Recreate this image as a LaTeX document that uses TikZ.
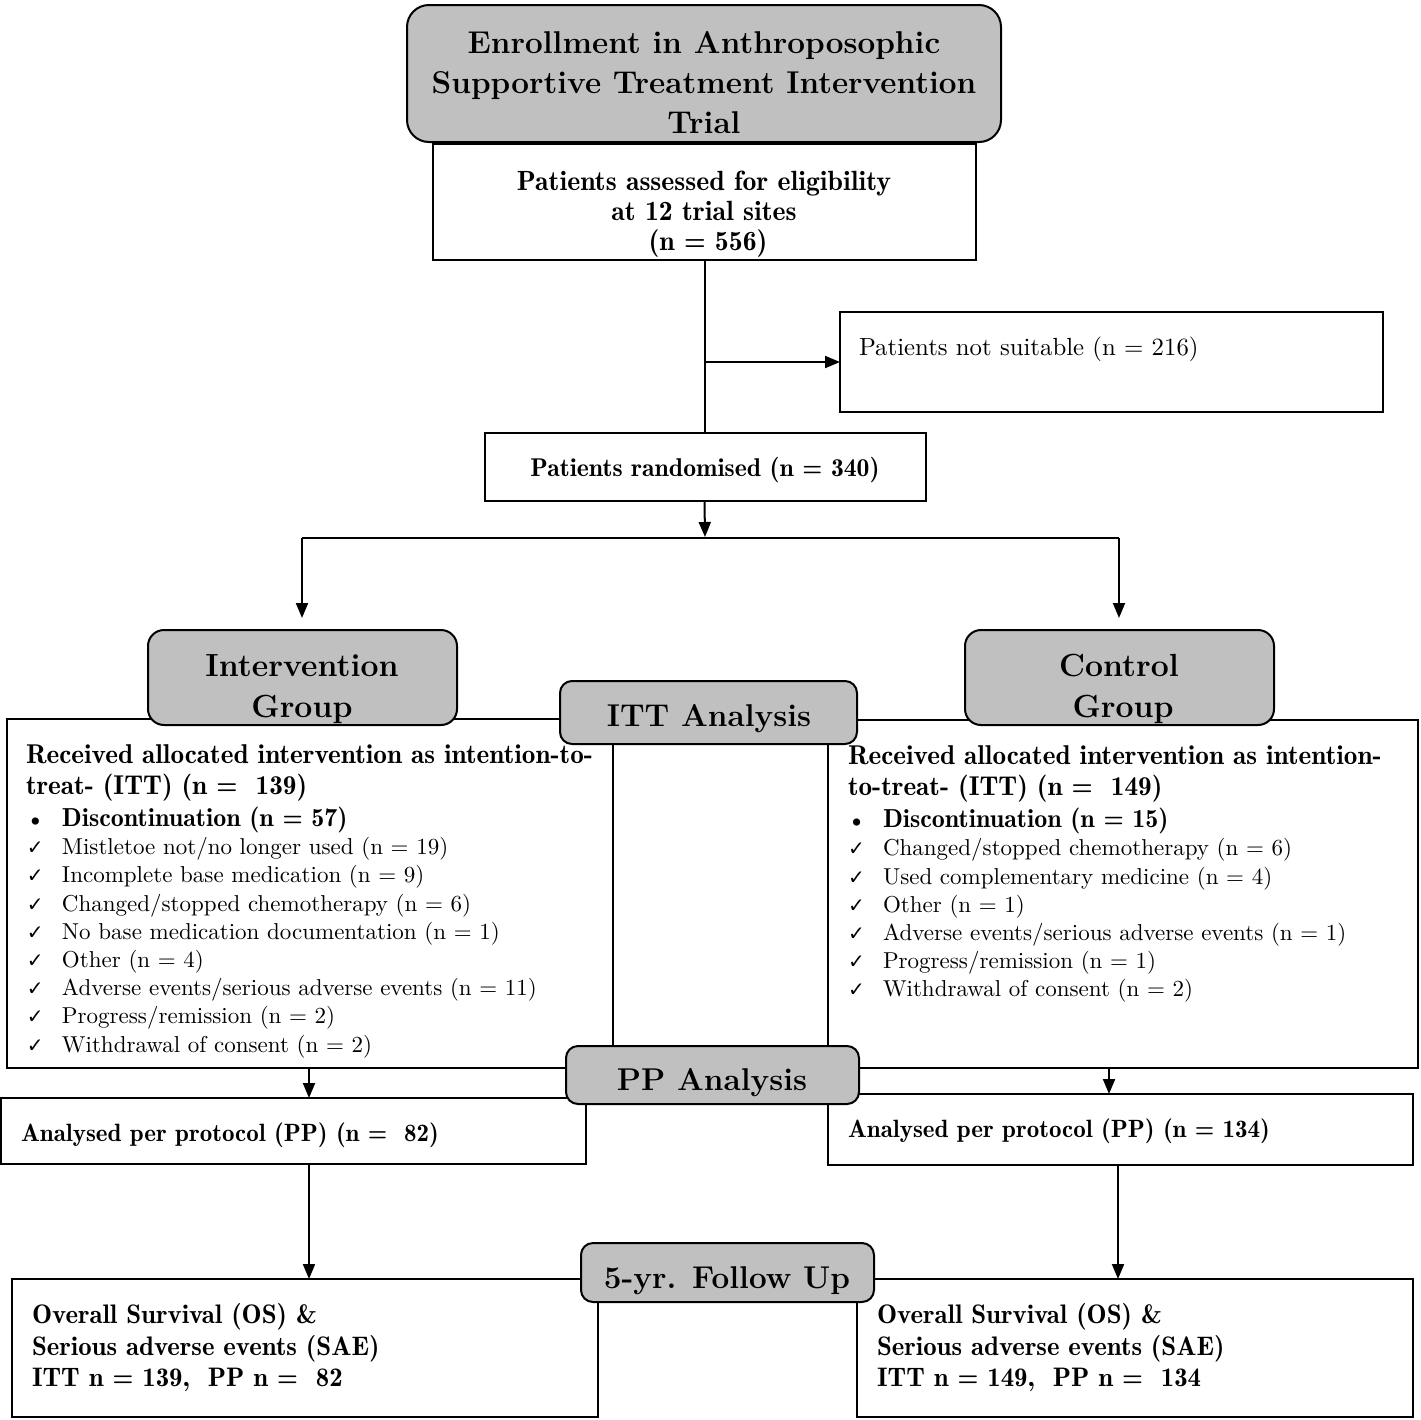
\documentclass[tikz,border=0pt]{standalone}
\usepackage{fontspec}
\newfontfamily\dejavu{DejaVu Sans}
\newfontfamily\tenrm{lmroman10-regular.otf}[BoldFont=lmromandemi10-regular.otf]
\usetikzlibrary{arrows.meta}
\definecolor{boxgray}{RGB}{192,192,192}
\newcommand\fs[1]{\fontsize{#1}{#1}\selectfont}
\newcommand\tick{\makebox[35pt][l]{\dejavu\fs{20}✓}}
\newcommand\bul{\makebox[35pt][l]{\fs{22}\textbullet}}
\tikzset{
  every node/.style={inner sep=0pt, outer sep=0pt},
  plainbox/.style={draw, line width=2pt, fill=white},
  roundbox/.style={draw, line width=2pt, fill=boxgray, rounded corners=#1},
  roundbox/.default=14pt,
  conn/.style={line width=2pt},
  arr/.style={conn, -{Triangle[length=15pt,width=12pt]}},
  bigtxt/.style={font=\bfseries\fs{31.5}, anchor=base},
  grptxt/.style={font=\bfseries\fs{32}, anchor=base},
  midtxt/.style={font=\tenrm\bfseries\fs{27.8}, anchor=base},
  randtxt/.style={font=\tenrm\bfseries\fs{25.7}, anchor=base},
  plaintxt/.style={font=\tenrm\fs{24.8}, anchor=base west},
  headtxt/.style={font=\tenrm\bfseries\fs{27.2}, anchor=base west},
  pptxt/.style={font=\tenrm\bfseries\fs{25}, anchor=base west},
  bottxt/.style={font=\tenrm\bfseries\fs{26.8}, anchor=base west},
  disctxt/.style={font=\tenrm\bfseries\fs{26}, anchor=base west},
  itemtxt/.style={font=\tenrm\fs{23}, anchor=base west},
}
\begin{document}
\begin{tikzpicture}[x=1pt,y=-1pt]
\useasboundingbox (0,0) rectangle (1421,1419);
\fill[white] (0,0) rectangle (1421,1419);

% ---- boxes
\node[roundbox=22pt, minimum width=594pt, minimum height=137pt] (title) at (704,73.5) {};
\node[plainbox, minimum width=543pt, minimum height=116pt] (assess) at (704.5,202) {};
\node[plainbox, minimum width=543pt, minimum height=100pt] (notsuit) at (1111.5,362) {};
\node[plainbox, minimum width=441pt, minimum height=68pt] (rand) at (705.5,467) {};

\node[plainbox, minimum width=606pt, minimum height=349pt] (leftlist) at (310,893.5) {};
\node[plainbox, minimum width=590pt, minimum height=348pt] (rightlist) at (1123,894) {};
\node[roundbox=16pt, minimum width=309pt, minimum height=95pt] (intgrp) at (302.5,677.5) {};
\node[roundbox=16pt, minimum width=309pt, minimum height=95pt] (ctlgrp) at (1119.5,677.5) {};
\node[roundbox=12pt, minimum width=297pt, minimum height=63pt] (itt) at (708.5,712.5) {};

\node[plainbox, minimum width=585pt, minimum height=66pt] (leftpp) at (293.5,1131) {};
\node[plainbox, minimum width=585pt, minimum height=71pt] (rightpp) at (1120.5,1129.5) {};
\node[roundbox=12pt, minimum width=293pt, minimum height=58pt] (pp) at (712.5,1075) {};

\node[plainbox, minimum width=586pt, minimum height=138pt] (leftbot) at (305,1348) {};
\node[plainbox, minimum width=556pt, minimum height=138pt] (rightbot) at (1135,1348) {};
\node[roundbox=12pt, minimum width=293pt, minimum height=59pt] (fu) at (727.5,1272.5) {};

% ---- connectors
\draw[conn] (assess.south) -- (assess.south |- rand.north);
\coordinate (br) at (assess.south |- notsuit.west);
\draw[arr] (br) -- (notsuit.west);
\coordinate (sp) at (705,537);
\draw[arr] (rand.south -| assess.south) -- (sp);
\coordinate (sl) at (302,538);
\coordinate (sr) at (1119,538);
\draw[conn] (sl) -- (sr);
\draw[arr, shorten >=12pt] (sl) -- (intgrp.north -| sl);
\draw[arr, shorten >=12pt] (sr) -- (ctlgrp.north -| sr);
\coordinate (la) at (309,1068);
\draw[arr] (la) -- (la |- leftpp.north);
\coordinate (ra) at (1109,1068);
\draw[arr] (ra) -- (ra |- rightpp.north);
\coordinate (lb) at (309,1164);
\draw[arr] (lb) -- (lb |- leftbot.north);
\coordinate (rb) at (1118,1165);
\draw[arr] (rb) -- (rb |- rightbot.north);

% ---- texts
\node[bigtxt] (t1) at (704,53) {Enrollment in Anthroposophic};
\node[bigtxt] (t2) at (704,93) {Supportive Treatment Intervention};
\node[bigtxt] (t3) at (704,133) {Trial};

\node[midtxt] (a1) at (704,190) {Patients assessed for eligibility};
\node[midtxt] (a2) at (704,220) {at 12 trial sites};
\node[midtxt] (a3) at (708,250) {(n = 556)};

\node[plaintxt] (ns) at (859,355) {Patients not suitable (n = 216)};
\node[randtxt] (rt) at (705,476) {Patients randomised (n = 340)};

\node[grptxt] (ig1) at (302,676) {Intervention};
\node[grptxt] (ig2) at (302,717) {Group};
\node[grptxt] (cg1) at (1119,676) {Control};
\node[grptxt] (cg2) at (1123,717) {Group};
\node[bigtxt] (ittt) at (709,726) {ITT Analysis};

% left list
\node[headtxt] (lh1) at (26,763) {Received allocated intervention as intention-to-};
\node[headtxt] (lh2) at (26,794) {treat- (ITT) (n =\ \ 139)};
\node[disctxt] (ld) at (27,826) {\bul Discontinuation (n = 57)};
\node[itemtxt] (l1) at (27,854.5) {\tick Mistletoe not/no longer used (n = 19)};
\node[itemtxt] (l2) at (27,882.5) {\tick Incomplete base medication (n = 9)};
\node[itemtxt] (l3) at (27,911) {\tick Changed/stopped chemotherapy (n = 6)};
\node[itemtxt] (l4) at (27,939) {\tick No base medication documentation (n = 1)};
\node[itemtxt] (l5) at (27,967) {\tick Other (n = 4)};
\node[itemtxt] (l6) at (27,995.5) {\tick Adverse events/serious adverse events (n = 11)};
\node[itemtxt] (l7) at (27,1023.5) {\tick Progress/remission (n = 2)};
\node[itemtxt] (l8) at (27,1052) {\tick Withdrawal of consent (n = 2)};

% right list
\node[headtxt] (rh1) at (848,764) {Received allocated intervention as intention-};
\node[headtxt] (rh2) at (848,795) {to-treat- (ITT) (n =\ \ 149)};
\node[disctxt] (rd) at (848,827) {\bul Discontinuation (n = 15)};
\node[itemtxt] (r1) at (848,855.5) {\tick Changed/stopped chemotherapy (n = 6)};
\node[itemtxt] (r2) at (848,884) {\tick Used complementary medicine (n = 4)};
\node[itemtxt] (r3) at (848,912) {\tick Other (n = 1)};
\node[itemtxt] (r4) at (848,940.5) {\tick Adverse events/serious adverse events (n = 1)};
\node[itemtxt] (r5) at (848,968.5) {\tick Progress/remission (n = 1)};
\node[itemtxt] (r6) at (848,996.5) {\tick Withdrawal of consent (n = 2)};

\node[bigtxt] (ppt) at (712,1090) {PP Analysis};
\node[pptxt] (lpp) at (21,1141) {Analysed per protocol (PP) (n =\ \ 82)};
\node[pptxt] (rpp) at (848,1137) {Analysed per protocol (PP) (n = 134)};

\node[bigtxt] (fut) at (727,1288) {5-yr. Follow Up};
\node[bottxt] (lb1) at (32,1323) {Overall Survival (OS) \&};
\node[bottxt] (lb2) at (32,1355) {Serious adverse events (SAE)};
\node[bottxt] (lb3) at (32,1386) {ITT n = 139,\ \ PP n =\ \ 82};
\node[bottxt] (rb1) at (877,1323) {Overall Survival (OS) \&};
\node[bottxt] (rb2) at (877,1355) {Serious adverse events (SAE)};
\node[bottxt] (rb3) at (877,1386) {ITT n = 149,\ \ PP n =\ \ 134};
\end{tikzpicture}
\end{document}
